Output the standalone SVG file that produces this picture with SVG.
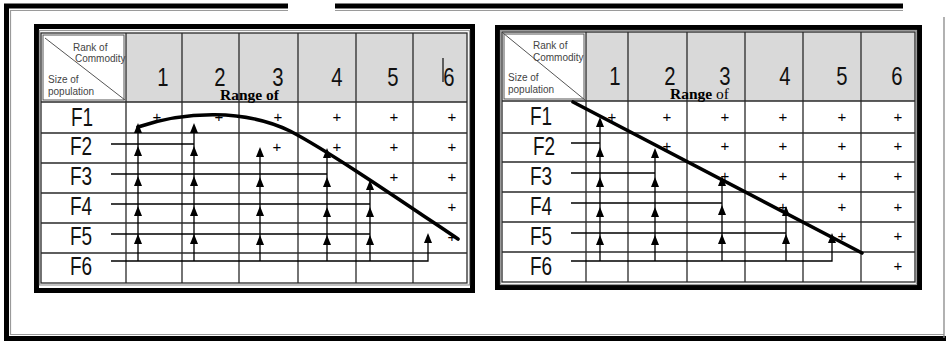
<svg xmlns="http://www.w3.org/2000/svg" xmlns:xlink="http://www.w3.org/1999/xlink" width="946" height="341" viewBox="0 0 946 341">
<style>
.frame{fill:none;stroke:#000;stroke-width:5}
.gline{fill:none;stroke:#9a9a9a;stroke-width:1.2}
.grid{stroke:#2a2a2a;stroke-width:1.3;fill:none}
.hdr{fill:#d9d9d9}
.lbl{font-family:"Liberation Sans",Arial,sans-serif;font-size:10px;fill:#444}
.big{font-family:"Liberation Sans",Arial,sans-serif;font-size:26px;fill:#111;text-anchor:middle}
.row{font-family:"Liberation Sans",Arial,sans-serif;font-size:25px;fill:#111;text-anchor:middle}
.pl{font-family:"Liberation Sans",Arial,sans-serif;font-size:15px;fill:#000;text-anchor:middle}
.rng{font-family:"Liberation Serif","Times New Roman",serif;font-size:15.5px;fill:#000}
.ar{stroke:#000;stroke-width:1.3;fill:none}
.thick{stroke:#000;stroke-width:3.6;fill:none;stroke-linecap:round}
</style>
<defs>
<path id="ah" d="M0,0 L-4,10 L4,10 Z" fill="#000"/>
</defs>
<rect width="946" height="341" fill="#fff"/>
<g id="outer-frame">
<path d="M288,6 H6.5 V338.5 H946" class="frame"/>
<path d="M335,6 H903" class="frame"/>
<path d="M288,10.5 H10.5 V334.5 H944" class="gline"/>
<path d="M335,10.5 H903" class="gline"/>
<path d="M944,17 V338" stroke="#888" stroke-width="1.3"/>
</g>

<!-- LEFT TABLE -->
<g id="table-left">
<rect x="36.5" y="26.5" width="436" height="264" class="frame" fill="#fff"/>
<rect x="39.5" y="30.5" width="430" height="254.5" class="gline"/>
<rect x="126" y="33" width="341" height="69" class="hdr"/>
<rect x="41" y="33" width="426" height="250" class="grid"/>
<rect x="43" y="35" width="81" height="65" fill="none" stroke="#555" stroke-width="1"/>
<path class="grid" d="M126,33 V283 M182,33 V283 M239,33 V283 M298,33 V283 M356,33 V283 M413,33 V283 M41,102 H467 M41,133 H467 M41,163 H467 M41,193 H467 M41,223 H467 M41,253 H467"/>
<path d="M45,38 L125,100" stroke="#555" stroke-width="1"/>
<text class="lbl" x="73" y="51">Rank of</text>
<text class="lbl" x="75" y="62">Commodity</text>
<text class="lbl" x="48" y="83">Size of</text>
<text class="lbl" x="48" y="95">population</text>
<g class="big">
<text transform="translate(163,86) scale(0.78,1)">1</text>
<text transform="translate(220,86) scale(0.78,1)">2</text>
<text transform="translate(278,86) scale(0.78,1)">3</text>
<text transform="translate(337,86) scale(0.78,1)">4</text>
<text transform="translate(393,86) scale(0.78,1)">5</text>
<text transform="translate(449,86) scale(0.78,1)">6</text>
</g>
<path d="M443,58 V82" stroke="#333" stroke-width="1.5"/>
<text class="rng" x="220" y="100" font-weight="bold">Range of</text>
<g class="row">
<text transform="translate(82,126) scale(0.76,1)">F1</text>
<text transform="translate(81,155) scale(0.76,1)">F2</text>
<text transform="translate(81,185) scale(0.76,1)">F3</text>
<text transform="translate(81,215) scale(0.76,1)">F4</text>
<text transform="translate(81,245) scale(0.76,1)">F5</text>
<text transform="translate(81,275) scale(0.76,1)">F6</text>
</g>
<g class="pl">
<text x="157" y="122">+</text><text x="219" y="122">+</text><text x="278" y="122">+</text><text x="337" y="122">+</text><text x="394" y="122">+</text><text x="452" y="122">+</text>
<text x="277" y="152">+</text><text x="337" y="152">+</text><text x="394" y="152">+</text><text x="452" y="152">+</text>
<text x="394" y="182">+</text><text x="452" y="182">+</text>
<text x="452" y="212">+</text>
<text x="452" y="242">+</text>
</g>
</g>
<g id="connectors-left">
<path class="ar" d="M111,144 H194 M111,174 H327 M111,204 H370 M111,234 H370 M111,261 H428 V238 M138,261 V128 M194,261 V128 M260,261 V152 M327,261 V153 M370,261 V185"/>
<use xlink:href="#ah" x="138" y="123"/><use xlink:href="#ah" x="138" y="146"/><use xlink:href="#ah" x="138" y="176"/><use xlink:href="#ah" x="138" y="206"/><use xlink:href="#ah" x="138" y="234"/>
<use xlink:href="#ah" x="194" y="123"/><use xlink:href="#ah" x="194" y="146"/><use xlink:href="#ah" x="194" y="176"/><use xlink:href="#ah" x="194" y="206"/><use xlink:href="#ah" x="194" y="234"/>
<use xlink:href="#ah" x="260" y="147"/><use xlink:href="#ah" x="260" y="177"/><use xlink:href="#ah" x="260" y="206"/><use xlink:href="#ah" x="260" y="235"/>
<use xlink:href="#ah" x="327" y="148"/><use xlink:href="#ah" x="327" y="177"/><use xlink:href="#ah" x="327" y="207"/><use xlink:href="#ah" x="327" y="235"/>
<use xlink:href="#ah" x="370" y="180"/><use xlink:href="#ah" x="370" y="207"/><use xlink:href="#ah" x="370" y="235"/>
<use xlink:href="#ah" x="428" y="233"/>
<path class="thick" d="M138,127 C185,111 245,109 290,131 C330,152 400,200 458,239"/>
</g>

<!-- RIGHT TABLE -->
<g id="table-right">
<rect x="497.5" y="27.5" width="422" height="260" class="frame" fill="#fff"/>
<rect x="500.5" y="30.5" width="416" height="254" class="gline"/>
<rect x="586" y="32" width="329" height="69" class="hdr"/>
<rect x="502" y="32" width="413" height="250" class="grid"/>
<rect x="504" y="34" width="80" height="65" fill="none" stroke="#555" stroke-width="1"/>
<path class="grid" d="M586,32 V282 M628,32 V282 M687,32 V282 M745,32 V282 M803,32 V282 M861,32 V282 M502,101 H915 M502,133 H915 M502,162 H915 M502,192 H915 M502,222 H915 M502,252 H915"/>
<path d="M503,33 L585,100" stroke="#555" stroke-width="1"/>
<text class="lbl" x="533" y="49">Rank of</text>
<text class="lbl" x="533" y="61">Commodity</text>
<text class="lbl" x="508" y="81">Size of</text>
<text class="lbl" x="508" y="93">population</text>
<g class="big">
<text transform="translate(615,85) scale(0.78,1)">1</text>
<text transform="translate(670,85) scale(0.78,1)">2</text>
<text transform="translate(725,85) scale(0.78,1)">3</text>
<text transform="translate(785,85) scale(0.78,1)">4</text>
<text transform="translate(842,85) scale(0.78,1)">5</text>
<text transform="translate(897,85) scale(0.78,1)">6</text>
</g>
<text class="rng" x="670" y="99"><tspan font-weight="bold">Range</tspan> of</text>
<g class="row">
<text transform="translate(541,125) scale(0.76,1)">F1</text>
<text transform="translate(544,155) scale(0.76,1)">F2</text>
<text transform="translate(541,185) scale(0.76,1)">F3</text>
<text transform="translate(541,215) scale(0.76,1)">F4</text>
<text transform="translate(541,245) scale(0.76,1)">F5</text>
<text transform="translate(541,275) scale(0.76,1)">F6</text>
</g>
<g class="pl">
<text x="612" y="122">+</text><text x="667" y="122">+</text><text x="725" y="122">+</text><text x="783" y="122">+</text><text x="842" y="122">+</text><text x="898" y="122">+</text>
<text x="667" y="151">+</text><text x="725" y="151">+</text><text x="783" y="151">+</text><text x="842" y="151">+</text><text x="898" y="151">+</text>
<text x="725" y="181">+</text><text x="783" y="181">+</text><text x="842" y="181">+</text><text x="898" y="181">+</text>
<text x="783" y="212">+</text><text x="842" y="212">+</text><text x="898" y="212">+</text>
<text x="842" y="241">+</text><text x="898" y="241">+</text>
<text x="898" y="271">+</text>
</g>
</g>
<g id="connectors-right">
<path class="ar" d="M571,143 H600 M571,173 H655 M571,203 H722 M571,233 H786 M571,261 H832 V238 M600,261 V122 M655,261 V154 M722,261 V181 M786,261 V211"/>
<use xlink:href="#ah" x="600" y="117"/><use xlink:href="#ah" x="600" y="147"/><use xlink:href="#ah" x="600" y="177"/><use xlink:href="#ah" x="600" y="207"/><use xlink:href="#ah" x="600" y="235"/>
<use xlink:href="#ah" x="655" y="148"/><use xlink:href="#ah" x="655" y="177"/><use xlink:href="#ah" x="655" y="207"/><use xlink:href="#ah" x="655" y="235"/>
<use xlink:href="#ah" x="722" y="176"/><use xlink:href="#ah" x="722" y="205"/><use xlink:href="#ah" x="722" y="234"/>
<use xlink:href="#ah" x="786" y="206"/><use xlink:href="#ah" x="786" y="234"/>
<use xlink:href="#ah" x="832" y="233"/>
<path class="thick" d="M573,102 L862,253"/>
</g>
</svg>
